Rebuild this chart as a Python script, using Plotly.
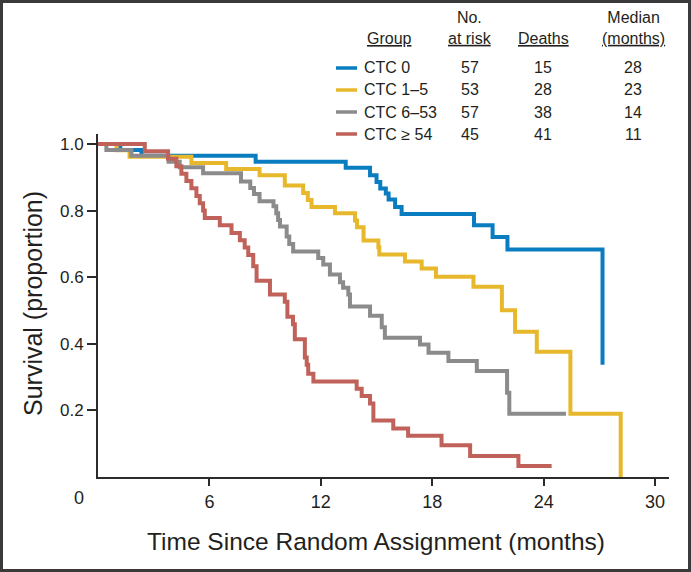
import plotly.graph_objects as go

# ---- data ----
blue_t = [0, 1.2, 2.34, 8.49, 13.34, 14.65, 15.0, 15.2, 15.5, 15.65, 16.0, 16.35, 20.25, 21.25, 22.05, 27.17]
blue_s = [1.0, 0.982, 0.965, 0.947, 0.929, 0.906, 0.886, 0.866, 0.851, 0.833, 0.811, 0.790, 0.756, 0.721, 0.683, 0.337]

gold_t = [0, 1.0, 1.7, 5.03, 6.9, 8.7, 10.06, 11.05, 11.3, 11.5, 12.76, 13.84, 13.95, 14.3, 15.1, 15.15,
          16.53, 17.43, 18.2, 20.22, 21.75, 22.46, 23.63, 25.44, 28.15]
gold_s = [1.0, 0.981, 0.962, 0.943, 0.925, 0.906, 0.875, 0.853, 0.832, 0.811, 0.792, 0.770, 0.750, 0.710, 0.690, 0.668,
          0.647, 0.626, 0.601, 0.571, 0.501, 0.436, 0.376, 0.190, 0.0]

gray_t = [0, 0.45, 1.8, 3.8, 4.4, 5.66, 7.7, 8.2, 8.4, 8.7, 9.45, 9.6, 9.7, 9.8, 10.16, 10.3, 10.51,
          11.86, 12.13, 12.49, 13.03, 13.2, 13.48, 13.57, 14.65, 15.28, 15.45, 17.34, 17.8, 18.87, 20.4,
          22.03, 22.15, 25.2]
gray_s = [1.0, 0.982, 0.965, 0.947, 0.930, 0.912, 0.887, 0.868, 0.850, 0.828, 0.813, 0.792, 0.772, 0.752, 0.722, 0.700, 0.677,
          0.658, 0.638, 0.608, 0.585, 0.568, 0.548, 0.512, 0.484, 0.450, 0.418, 0.398, 0.373, 0.348, 0.318,
          0.253, 0.190, 0.190]

red_t = [0, 2.52, 3.77, 4.22, 4.49, 4.76, 5.03, 5.30, 5.48, 5.66, 5.75, 6.56, 7.19, 7.64, 7.9, 8.09, 8.36, 8.54,
         9.26, 10.06, 10.2, 10.5, 10.6, 11.14, 11.24, 11.32, 11.6, 13.93, 14.2, 14.65, 14.83, 15.9, 16.7, 18.5,
         20.04, 22.64, 24.43]
red_s = [1.0, 0.978, 0.956, 0.933, 0.911, 0.889, 0.867, 0.844, 0.822, 0.800, 0.778, 0.756, 0.733, 0.711, 0.689, 0.667, 0.633, 0.589,
         0.548, 0.526, 0.481, 0.459, 0.414, 0.359, 0.337, 0.310, 0.287, 0.265, 0.243, 0.221, 0.170, 0.146, 0.124, 0.095,
         0.063, 0.033, 0.033]

groups = ["CTC 0", "CTC 1–5", "CTC 6–53", "CTC ≥ 54"]
at_risk = [57, 53, 57, 45]
deaths = [15, 28, 38, 41]
medians = [28, 23, 14, 11]
colors = ["#0a7dc1", "#e7b82c", "#8b8b8b", "#c0615a"]

x_ticks = [6, 12, 18, 24, 30]
y_ticks = [0.2, 0.4, 0.6, 0.8, 1.0]

# ---- layout geometry ----
W, H = 691, 572
L, R, T, B = 98, 22, 134, 95
PW, PH = W - L - R, H - T - B


def px2x(px):
    return (px - L) / PW


def py2y(py):
    return (H - B - py) / PH


TXT = "#231f20"
AX = "#2b2b2b"
FONT = "Liberation Sans, Arial, Helvetica, sans-serif"

fig = go.Figure()
series = [(blue_t, blue_s), (gold_t, gold_s), (gray_t, gray_s), (red_t, red_s)]
for (t, s), name, col in zip(series, groups, colors):
    fig.add_trace(go.Scatter(x=t, y=s, mode="lines", name=name,
                             line=dict(color=col, width=4, shape="hv"),
                             hoverinfo="skip", showlegend=False))

annotations = []
shapes = []

# table header
hdr = dict(xref="paper", yref="paper", showarrow=False, font=dict(family=FONT, size=16, color=TXT))
annotations.append(dict(text="<u>Group</u>", x=px2x(365), y=py2y(39), xanchor="left", yanchor="middle", **hdr))
annotations.append(dict(text="No.<br><u>at risk</u>", x=px2x(470), y=py2y(49), xanchor="center", yanchor="bottom", **hdr))
annotations.append(dict(text="<u>Deaths</u>", x=px2x(543), y=py2y(39), xanchor="center", yanchor="middle", **hdr))
annotations.append(dict(text="Median<br><u>(months)</u>", x=px2x(633), y=py2y(49), xanchor="center", yanchor="bottom", **hdr))

row_y = [68, 90, 112, 134]
for i, g in enumerate(groups):
    yy = py2y(row_y[i])
    shapes.append(dict(type="line", xref="paper", yref="paper",
                       x0=px2x(336), x1=px2x(357), y0=yy, y1=yy,
                       line=dict(color=colors[i], width=3.5)))
    annotations.append(dict(text=g, x=px2x(362), y=yy, xanchor="left", yanchor="middle", **hdr))
    annotations.append(dict(text=str(at_risk[i]), x=px2x(470), y=yy, xanchor="center", yanchor="middle", **hdr))
    annotations.append(dict(text=str(deaths[i]), x=px2x(543), y=yy, xanchor="center", yanchor="middle", **hdr))
    annotations.append(dict(text=str(medians[i]), x=px2x(633), y=yy, xanchor="center", yanchor="middle", **hdr))

# axis titles and the offset "0" label
annotations.append(dict(text="Time Since Random Assignment (months)", xref="paper", yref="paper",
                        x=px2x(376), y=py2y(541), xanchor="center", yanchor="middle", showarrow=False,
                        font=dict(family=FONT, size=24.5, color=TXT)))
annotations.append(dict(text="Survival (proportion)", xref="paper", yref="paper", textangle=-90,
                        x=px2x(33), y=py2y(304), xanchor="center", yanchor="middle", showarrow=False,
                        font=dict(family=FONT, size=25, color=TXT)))
annotations.append(dict(text="0", xref="paper", yref="paper",
                        x=px2x(79), y=py2y(498), xanchor="center", yanchor="middle", showarrow=False,
                        font=dict(family=FONT, size=18, color=TXT)))

# outer frame
shapes.append(dict(type="rect", xref="paper", yref="paper",
                   x0=px2x(1.5), x1=px2x(W - 1.5), y0=py2y(H - 1.5), y1=py2y(1.5),
                   line=dict(color="#3a3a3a", width=3), fillcolor="rgba(0,0,0,0)", layer="above"))

fig.update_layout(
    width=W, height=H,
    margin=dict(l=L, r=R, t=T, b=B, pad=0),
    paper_bgcolor="white", plot_bgcolor="white",
    annotations=annotations, shapes=shapes,
    showlegend=False,
    xaxis=dict(range=[0, 30.75], tickvals=x_ticks, ticktext=[str(v) for v in x_ticks],
               ticks="outside", ticklen=7, tickwidth=1.5, tickcolor=AX,
               showline=True, linecolor=AX, linewidth=2, showgrid=False, zeroline=False,
               tickfont=dict(family=FONT, size=18, color=TXT)),
    yaxis=dict(range=[0, 1.03], tickvals=y_ticks, ticktext=[f"{v:.1f}" for v in y_ticks],
               ticks="outside", ticklen=9, tickwidth=1.5, tickcolor=AX,
               showline=True, linecolor=AX, linewidth=2, showgrid=False, zeroline=False,
               tickfont=dict(family=FONT, size=17, color=TXT)),
)

fig.write_html("out.html", config={"displayModeBar": False},
               post_script="document.body.style.margin='0px';document.body.style.overflow='hidden';")
